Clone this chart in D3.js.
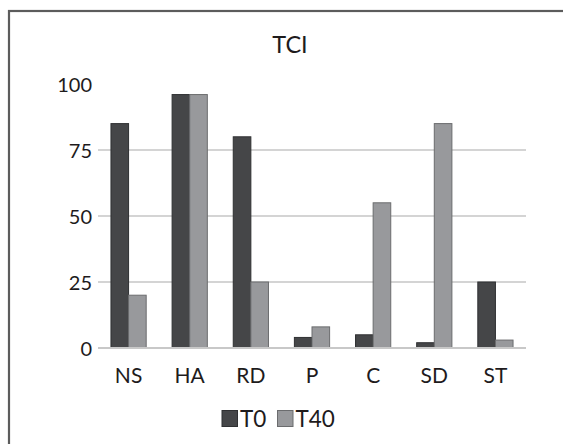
<!DOCTYPE html>
<html>
<head>
<meta charset="utf-8">
<script src="https://cdn.jsdelivr.net/npm/d3@7"></script>
<style>
  html, body { margin: 0; padding: 0; background: #fff; }
  svg { display: block; }
  text { font-family: Lato, "Open Sans", sans-serif; fill: #1e1b1c; }
</style>
</head>
<body>
<svg id="chart" width="563" height="444"></svg>
<script>
const categories = ["NS", "HA", "RD", "P", "C", "SD", "ST"];
const seriesNames = ["T0", "T40"];
const t0Values = [85, 96, 80, 4, 5, 2, 25];
const t40Values = [20, 96, 25, 8, 55, 85, 3];
const yTicks = [0, 25, 50, 75, 100];
const title = "TCI";

const fills = { T0: "#454648", T40: "#98999c" };
const strokes = { T0: "#2f3032", T40: "#6b6c6e" };
const font = "Lato, 'Open Sans', sans-serif";

const svg = d3.select("#chart");

// outer frame (right and bottom edges run off the canvas)
svg.append("rect")
  .attr("x", 9).attr("y", 11)
  .attr("width", 620).attr("height", 460)
  .attr("fill", "none").attr("stroke", "#5c5c5c").attr("stroke-width", 2.2);

const plot = { left: 98, right: 526, top: 84, bottom: 348 };

const x = d3.scaleBand().domain(categories).range([plot.left, plot.right]).padding(0);
const y = d3.scaleLinear().domain([0, 100]).range([plot.bottom, plot.top]);

// horizontal gridlines
svg.append("g").selectAll("line")
  .data(yTicks.filter(t => t < 100))
  .join("line")
  .attr("x1", plot.left).attr("x2", plot.right)
  .attr("y1", d => y(d)).attr("y2", d => y(d))
  .attr("stroke", "#d4d4d4").attr("stroke-width", 2);

// y-axis labels
const yAxis = d3.axisLeft(y).tickValues(yTicks).tickSize(0).tickPadding(0);
const yg = svg.append("g").attr("transform", `translate(92,0)`).call(yAxis);
yg.select(".domain").remove();
yg.selectAll("text").attr("font-size", 20).style("font-family", font).attr("fill", "#1e1b1c").attr("dy", "0.36em");

// bars
const barW = x.bandwidth() * 0.288;
const rows = categories.map((c, i) => ({ c, T0: t0Values[i], T40: t40Values[i] }));
seriesNames.forEach((s, si) => {
  svg.append("g").selectAll("rect")
    .data(rows)
    .join("rect")
    .attr("x", d => x(d.c) + x.bandwidth() / 2 - barW + si * barW)
    .attr("y", d => y(d[s]))
    .attr("width", barW)
    .attr("height", d => y(0) - y(d[s]))
    .attr("fill", fills[s])
    .attr("stroke", strokes[s])
    .attr("stroke-width", 1);
});

// baseline
svg.append("line")
  .attr("x1", plot.left).attr("x2", plot.right)
  .attr("y1", y(0)).attr("y2", y(0))
  .attr("stroke", "#c8c8c8").attr("stroke-width", 2);

// x-axis labels
const xAxis = d3.axisBottom(x).tickSize(0).tickPadding(0);
const xg = svg.append("g").attr("transform", `translate(0,383)`).call(xAxis);
xg.select(".domain").remove();
xg.selectAll("text").attr("font-size", 21).style("font-family", font).attr("fill", "#1e1b1c").attr("dy", 0);

// title
svg.append("text")
  .attr("x", 290).attr("y", 52.5)
  .attr("text-anchor", "middle")
  .attr("font-size", 23.5)
  .text(title);

// legend
const legend = svg.append("g");
const legendItems = [{ s: "T0", x: 222 }, { s: "T40", x: 277.5 }];
legendItems.forEach(it => {
  legend.append("rect")
    .attr("x", it.x).attr("y", 410.5)
    .attr("width", 15.5).attr("height", 16)
    .attr("fill", fills[it.s]).attr("stroke", strokes[it.s]);
  legend.append("text")
    .attr("x", it.x + 18).attr("y", 427)
    .attr("font-size", 22.5)
    .text(it.s);
});
</script>
</body>
</html>
